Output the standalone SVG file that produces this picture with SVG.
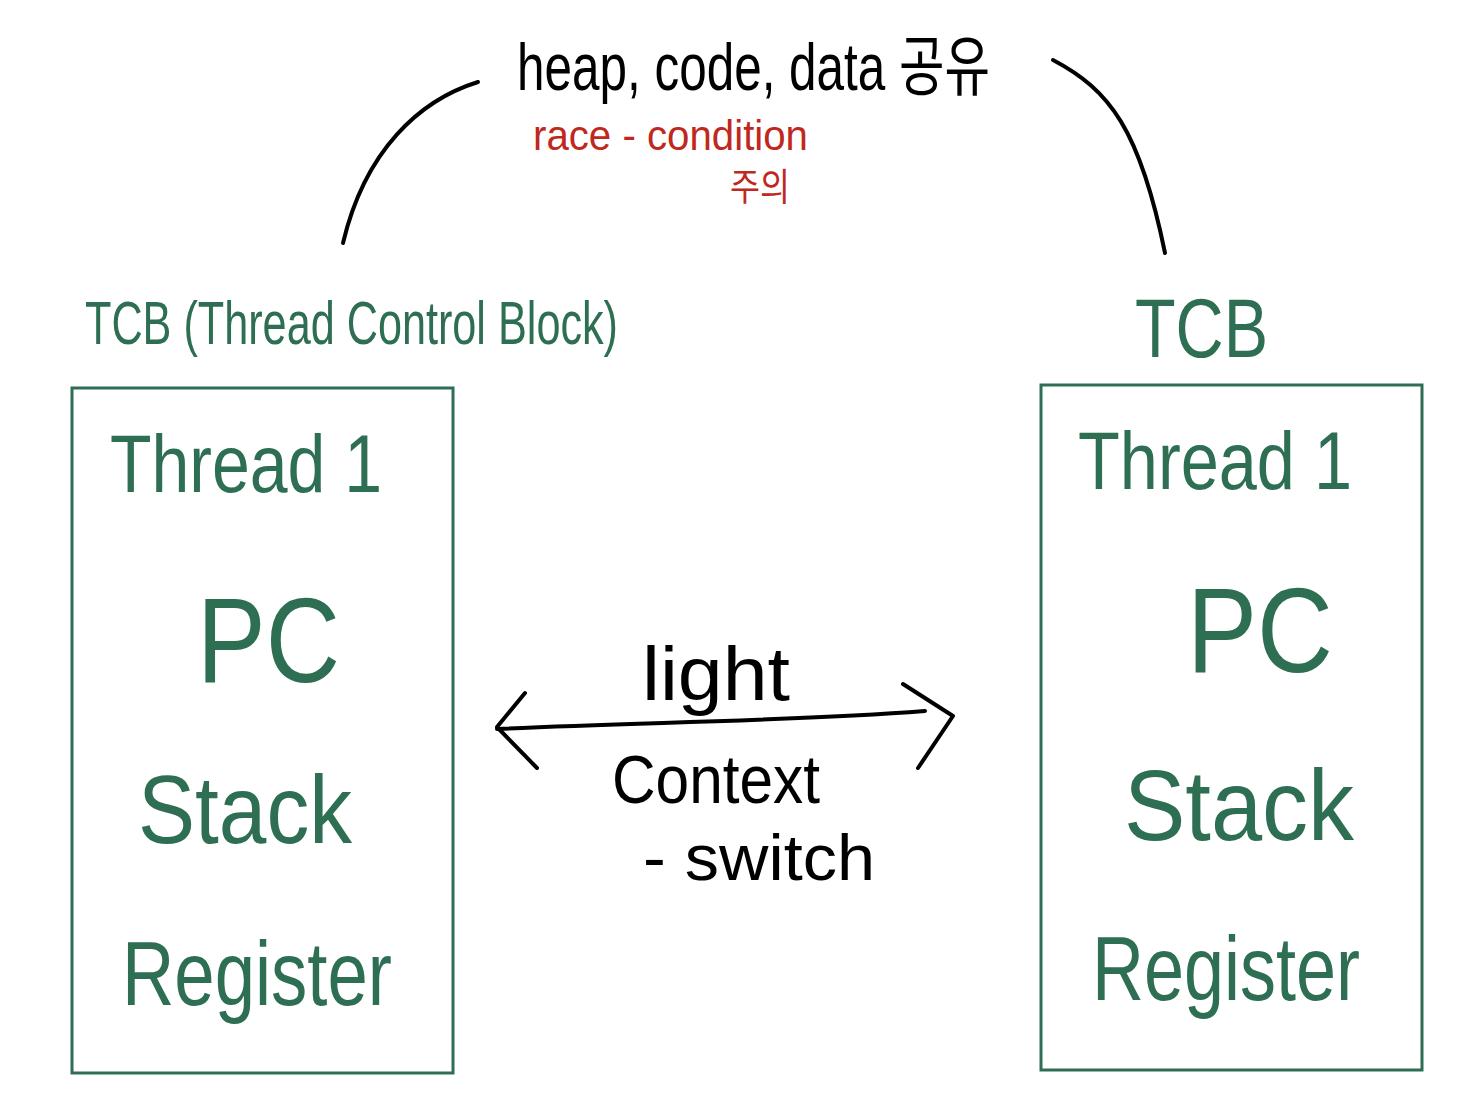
<svg xmlns="http://www.w3.org/2000/svg" width="1464" height="1107" viewBox="0 0 1464 1107">
<style>
.g{fill:#2e6f54;font-family:"Liberation Sans","Noto Sans CJK KR",sans-serif}
.k{fill:#000;font-family:"Liberation Sans","Noto Sans CJK KR",sans-serif}
.r{fill:#c0281e;font-family:"Liberation Sans","Noto Sans CJK KR",sans-serif}
.box{fill:none;stroke:#2e6f54;stroke-width:3}
.ln{fill:none;stroke:#000;stroke-width:4;stroke-linecap:round;stroke-linejoin:round}
</style>
<rect width="1464" height="1107" fill="#fff"/>
<g id="connectors">
<path class="ln" d="M478,82 C420,100 365,150 343,243"/>
<path class="ln" d="M1053,60 C1110,90 1140,130 1165,253"/>
<path class="ln" d="M497,729 C640,722 780,722 925,711"/>
<path class="ln" d="M525,693 L497,727 L537,768"/>
<path class="ln" d="M903,684 L953,716 L918,768"/>
</g>
<g id="shared">
<text class="k" x="517" y="90" font-size="66" textLength="473" lengthAdjust="spacingAndGlyphs">heap, code, data 공유</text>
<text class="r" x="533" y="150" font-size="42" textLength="275" lengthAdjust="spacingAndGlyphs">race - condition</text>
<text class="r" x="730" y="200" font-size="38" textLength="60" lengthAdjust="spacingAndGlyphs">주의</text>
</g>
<g id="tcb-left">
<text class="g" x="85" y="344" font-size="62" textLength="533" lengthAdjust="spacingAndGlyphs">TCB (Thread Control Block)</text>
<rect class="box" x="72" y="388" width="381" height="685"/>
<text class="g" x="110" y="492" font-size="82" textLength="272" lengthAdjust="spacingAndGlyphs">Thread 1</text>
<text class="g" x="197" y="682" font-size="120" textLength="143" lengthAdjust="spacingAndGlyphs">PC</text>
<text class="g" x="138" y="843" font-size="96" textLength="214" lengthAdjust="spacingAndGlyphs">Stack</text>
<text class="g" x="122" y="1005" font-size="90" textLength="270" lengthAdjust="spacingAndGlyphs">Register</text>
</g>
<g id="tcb-right">
<text class="g" x="1135" y="357" font-size="84" textLength="133" lengthAdjust="spacingAndGlyphs">TCB</text>
<rect class="box" x="1041" y="385" width="381" height="685"/>
<text class="g" x="1078" y="489" font-size="82" textLength="274" lengthAdjust="spacingAndGlyphs">Thread 1</text>
<text class="g" x="1187" y="672" font-size="120" textLength="146" lengthAdjust="spacingAndGlyphs">PC</text>
<text class="g" x="1124" y="840" font-size="100" textLength="230" lengthAdjust="spacingAndGlyphs">Stack</text>
<text class="g" x="1092" y="1000" font-size="90" textLength="268" lengthAdjust="spacingAndGlyphs">Register</text>
</g>
<g id="context-switch">
<text class="k" x="642" y="700" font-size="76" textLength="148" lengthAdjust="spacingAndGlyphs">light</text>
<text class="k" x="612" y="803" font-size="68" textLength="208" lengthAdjust="spacingAndGlyphs">Context</text>
<text class="k" x="643" y="880" font-size="64" textLength="232" lengthAdjust="spacingAndGlyphs">- switch</text>
</g>
</svg>
